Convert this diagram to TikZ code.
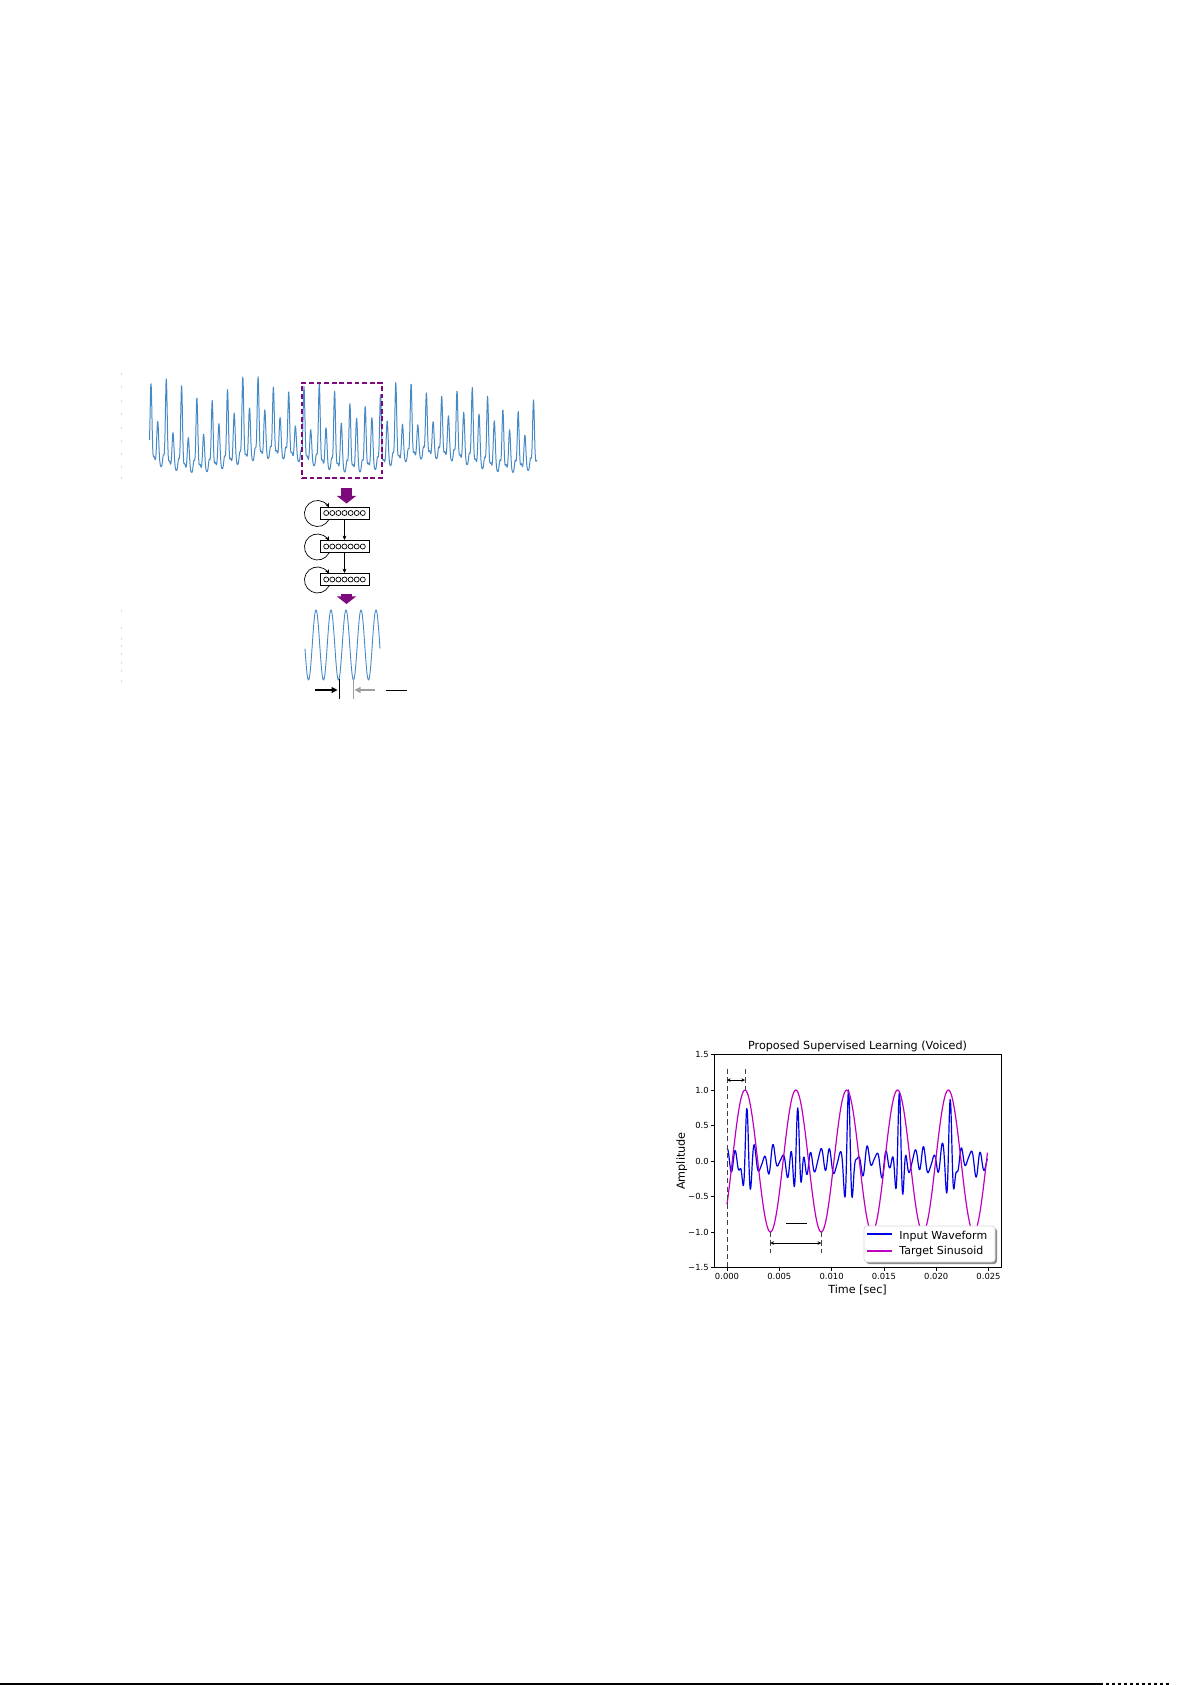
\documentclass[tikz,border=0pt]{standalone}
\usepackage{fontspec}
\setmainfont{DejaVu Sans}
\usetikzlibrary{arrows.meta,calc}

\definecolor{wavecol}{RGB}{70,137,196}
\definecolor{winpurple}{RGB}{125,10,125}
\definecolor{inblue}{RGB}{0,0,230}
\definecolor{tgtmag}{RGB}{191,0,191}

\begin{document}
\begin{tikzpicture}[x=0.5pt, y=-0.5pt,
  declare function={
    topw(\px) = 466 + 7*sin(2.3*\px)
      - (82 - 0.035*(\px-151) + 9*sin(4.74*\px))*exp(7*(cos(23.53*(\px-151))-1))
      - (45 + 10*sin(3.1*\px+50))*exp(6*(cos(23.53*(\px-151)-158)-1))
      - 12*exp(10*(cos(23.53*(\px-151)-290)-1))
      - 8*exp(10*(cos(23.53*(\px-151)-75)-1));
    kidx(\tm) = round((\tm-1.9)/4.86);
    tau(\tm) = \tm - 1.9 - 4.86*kidx(\tm);
    pamp(\kn) = 0.73*(\kn<0.5) + 0.75*(\kn>0.5)*(\kn<1.5) + 0.98*(\kn>1.5)*(\kn<2.5)
      + 0.97*(\kn>2.5)*(\kn<3.5) + 0.87*(\kn>3.5);
    ripl(\tm) = 0.14*cos(400*\tm+30) + 0.05*sin(600*\tm) + 0.06*cos(157*\tm);
    inw(\tm) = pamp(kidx(\tm))*exp(-(tau(\tm)/0.42)*(tau(\tm)/0.42))*cos(461.5*tau(\tm))
      + ripl(\tm)*(1 - 0.9*exp(-(tau(\tm)/0.5)*(tau(\tm)/0.5)));
    tgt(\tm) = cos(74.07*(\tm-1.72));
  },
  wave/.style={wavecol, line width=0.5pt, line join=round},
  dashbox/.style={draw=winpurple, line width=0.6pt, dash pattern=on 2.4pt off 1.4pt,
    minimum width=40pt, minimum height=47.5pt, inner sep=0pt},
  layer/.style={draw, line width=0.5pt, minimum width=24.5pt, minimum height=6pt, inner sep=0pt},
  cell/.style={line width=0.35pt},
  fat/.style={winpurple, line width=5.5pt, -{Triangle[length=3.8pt, width=9.5pt]}},
  arr/.style={-{Stealth[length=2.2pt, width=2pt]}, line width=0.35pt},
  marr/.style={-{Triangle[length=3pt, width=3pt]}, line width=0.55pt},
  guide/.style={black!75, line width=0.4pt, dash pattern=on 2.6pt off 1.6pt},
  darr/.style={{Stealth[length=1.8pt, width=1.8pt]}-{Stealth[length=1.8pt, width=1.8pt]}, line width=0.45pt},
  ticklab/.style={font=\fontsize{4.2}{5}\selectfont, inner sep=0pt},
  axlab/.style={font=\fontsize{5.6}{6.6}\selectfont, inner sep=0pt},
  legtext/.style={font=\fontsize{5.5}{6.5}\selectfont, inner sep=0pt, anchor=base west},
  legbox/.style={draw=black!15, fill=white, line width=0.4pt, rounded corners=1.5pt,
    minimum width=65.5pt, minimum height=18pt, inner sep=0pt}
]
\useasboundingbox (0,0) rectangle (1192,1685);

% faint axis marks left of the waveforms
\foreach \y in {373,386,400,413,427,440,453,466,477}
  \draw[black!15, line width=0.5pt] (121,\y) -- (121,\y+2);
\foreach \y in {610,627,638,645,653,662,670,680}
  \draw[black!15, line width=0.5pt] (121,\y) -- (121,\y+2);

% speech waveform and analysis window
\draw[wave] plot[domain=149.5:537, samples=1200] (\x, {topw(\x)});
\node[dashbox] (win) at (342,430.5) {};

% recurrent layers
\node[layer] (lay1) at (344.5,513) {};
\node[layer] (lay2) at (344.5,546.5) {};
\node[layer] (lay3) at (344.5,579.5) {};
\foreach \n in {1,2,3} {
  \foreach \i in {0,...,6}
    \draw[cell] ($(lay\n.center)+(-18.3+6.1*\i,0)$) circle[radius=2.5];
  \draw[arr] ([shift={(9.5,0)}]lay\n.south west) arc[start angle=27.5, end angle=332.5, radius=13];
}
\draw[arr] (lay1) -- (lay2);
\draw[arr] (lay2) -- (lay3);
\draw[fat] ($(lay1.north)+(2,-19)$) -- ($(lay1.north)+(2,-3)$);
\draw[fat] ($(lay3.south)+(2,8)$) -- ($(lay3.south)+(2,18)$);

% output sinusoid
\draw[wave, line width=0.45pt] plot[domain=305:380, samples=200] (\x, {645-35*cos(24*(\x-316))});
\coordinate (mk1t) at (339,679);
\coordinate (mk1b) at (339,699);
\coordinate (mk2t) at (353.5,679);
\coordinate (mk2b) at (353.5,699);
\coordinate (pa) at (315,690);
\coordinate (pb) at (375,690);
\draw[line width=0.5pt] (mk1t) -- (mk1b);
\draw[black!38, line width=0.65pt] (mk2t) -- (mk2b);
\draw[marr] (pa) -- ($(mk1t)!0.55!(mk1b)+(-1.5,0)$);
\draw[marr, black!38] (pb) -- ($(mk2t)!0.55!(mk2b)+(1,0)$);
\coordinate (bar1a) at (386,690);
\coordinate (bar1b) at (407,690);
\draw[line width=0.5pt] (bar1a) -- (bar1b);

% supervised learning plot
\begin{scope}[shift={(727,1161)}, x=5.23pt, y=35.5pt]
  \draw[inblue, line width=0.6pt, line join=round] plot[domain=0:24.9, samples=700] (\x, {inw(\x)});
  \draw[tgtmag, line width=0.6pt] plot[domain=0:24.9, samples=300] (\x, {tgt(\x)});
  \draw[line width=0.5pt] (-1.243,-1.5) rectangle (26.2,1.5);
  \foreach \v/\s [count=\i] in {1.5/1.5, 1.0/1.0, 0.5/0.5, 0/0.0, -0.5/−0.5, -1.0/−1.0, -1.5/−1.5} {
    \draw[line width=0.4pt] (-1.243,\v) -- ++(-0.29,0);
    \node[ticklab, anchor=east] (ytl\i) at (-1.72,\v) {\s};
  }
  \foreach \t/\s [count=\i] in {0/0.000, 5/0.005, 10/0.010, 15/0.015, 20/0.020, 25/0.025} {
    \draw[line width=0.4pt] (\t,-1.5) -- ++(0,-0.0423);
    \node[ticklab, anchor=base] (xtl\i) at (\t,-1.669) {\s};
  }
  \node[axlab, anchor=base] (xlab) at (12.48,-1.859) {Time [sec]};
  \node[axlab, rotate=90] (ylab) at (-4.32,0) {Amplitude};
  \node[font=\fontsize{5.6}{6.6}\selectfont, inner sep=0pt, anchor=base] (title) at (12.48,1.57)
    {Proposed Supervised Learning (Voiced)};
  % period and offset markers
  \coordinate (g0t) at (0,1.296);
  \coordinate (g0b) at (0,-1.5);
  \coordinate (g1t) at (1.72,1.296);
  \coordinate (g1b) at (1.72,1.0);
  \draw[guide] (g0t) -- (g0b);
  \draw[guide] (g1t) -- (g1b);
  \coordinate (d0a) at (0,1.14);
  \coordinate (d0b) at (1.72,1.14);
  \draw[darr] (d0a) -- (d0b);
  \coordinate (g2t) at (4.15,-1.0);
  \coordinate (g2b) at (4.15,-1.296);
  \coordinate (g3t) at (9.01,-1.0);
  \coordinate (g3b) at (9.01,-1.296);
  \draw[guide] (g2t) -- (g2b);
  \draw[guide] (g3t) -- (g3b);
  \coordinate (d1a) at (4.15,-1.155);
  \coordinate (d1b) at (9.01,-1.155);
  \draw[darr] (d1a) -- (d1b);
  \coordinate (bar2a) at (5.64,-0.887);
  \coordinate (bar2b) at (7.65,-0.887);
  \draw[line width=0.5pt] (bar2a) -- (bar2b);
\end{scope}

% legend
\node[legbox, fill=black!45, draw=none] (legshade) at (931.5,1246) {};
\node[legbox] (leg) at (929.5,1244) {};
\coordinate (l1a) at (867,1234);
\coordinate (l1b) at (892,1234);
\coordinate (l2a) at (867,1251);
\coordinate (l2b) at (892,1251);
\draw[inblue, line width=0.6pt] (l1a) -- (l1b);
\draw[tgtmag, line width=0.6pt] (l2a) -- (l2b);
\node[legtext] (l1t) at (899,1239) {Input Waveform};
\node[legtext] (l2t) at (899,1254.5) {Target Sinusoid};

% page foot rule
\draw[line width=1pt] (0,1684) -- (1100,1684);
\draw[line width=1pt, dash pattern=on 1.5pt off 1.5pt] (1100,1684) -- (1172,1684);
\end{tikzpicture}
\end{document}
